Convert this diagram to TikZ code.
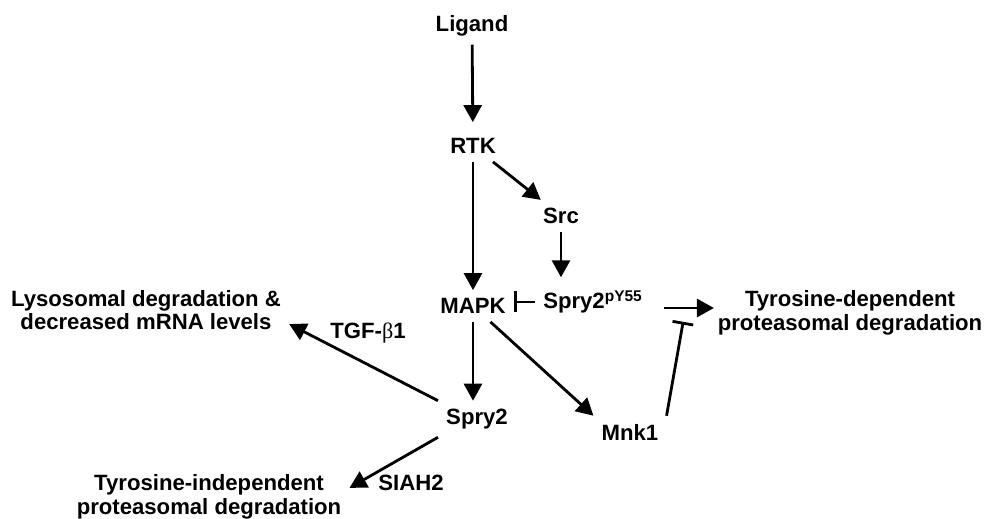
\documentclass[tikz,border=0pt]{standalone}
\usepackage{fontspec}
\setmainfont{Liberation Sans}
\newfontfamily\grk{Liberation Serif}
\usetikzlibrary{arrows.meta,calc}

\begin{document}
\begin{tikzpicture}[x=0.02cm,y=-0.02cm,
  lab/.style={font=\fontsize{12.6}{13.4}\selectfont\bfseries,align=center,inner sep=4.5pt},
  act/.style={-{Triangle[length=0.34cm,width=0.36cm]},line width=1.6pt},
  inh/.style={-{Bar[width=0.42cm]},line width=1.6pt}]
\useasboundingbox (0,0) rectangle (993,519);
\node[lab] (lig) at (472,26) {Ligand};
\node[lab] (rtk) at (473,146) {RTK}; \node[lab] (src) at (561,216) {Src};
\node[lab] (mapk) at (473,306) {MAPK};
\node[lab,anchor=west] (sprp) at (535,302) {Spry2\textsuperscript{pY55}};
\node[lab,inner sep=2pt] (tyrdep) at (850,313) {Tyrosine-dependent\\proteasomal degradation};
\node[lab] (lyso) at (146,310) {Lysosomal degradation \&\\decreased mRNA levels};
\node[lab] (spry) at (477,419) {Spry2}; \node[lab] (mnk) at (630,432) {Mnk1};
\node[lab] (tyrind) at (209,497) {Tyrosine-independent\\proteasomal degradation};
\node[lab] (tgf) at (368,333) {TGF-{\grk\mdseries β}1}; \node[lab] (siah) at (411,483) {SIAH2};
% activating edges
\draw[act,shorten >=0.16cm] (lig) -- (rtk);
\draw[act] (rtk) -- (src); \draw[act] (rtk) -- (mapk);
\draw[act,shorten >=0.1cm] (src) -- (src |- sprp.north);
\draw[act] (mapk) -- (mapk |- spry.north);
\draw[act] (mapk) -- (mnk.north west);
\draw[act] (spry.north west) -- ($(lyso.east)!0.5!(lyso.south east)$);
\draw[act] (spry.south west) -- ($(tyrind.north east)!0.7!(tyrind.east)$);
\draw[act,shorten <=0.26cm] ([yshift=-0.12cm]sprp.east) -- coordinate[pos=0.55] (blk) ([yshift=-0.12cm]sprp.east -| tyrdep.west);
% inhibitory edges
\draw[inh] (sprp.west) -- (mapk.east |- sprp.west);
\draw[inh,shorten >=0.28cm] (mnk.north east) -- (blk);
\end{tikzpicture}
\end{document}
